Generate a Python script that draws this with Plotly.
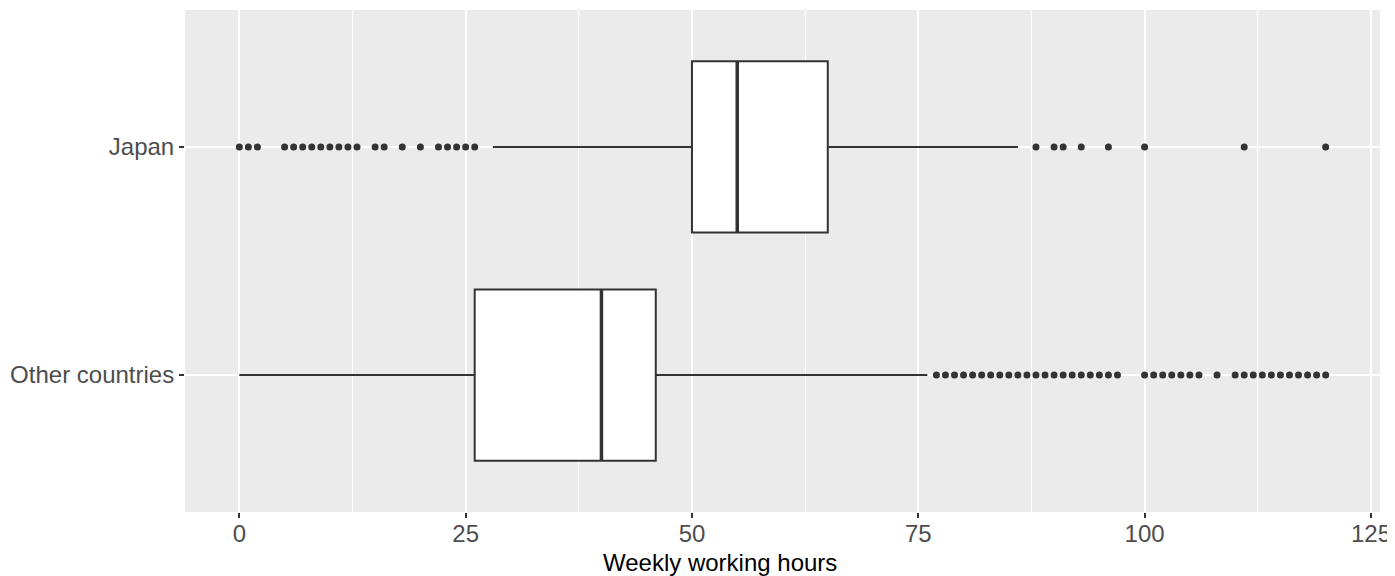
import plotly.graph_objects as go

# ---- data ----
groups = ["Other countries", "Japan"]
positions = [1, 2]
q1 = [26, 50]
median = [40, 55]
q3 = [46, 65]
lower_fence = [0, 28]
upper_fence = [76, 86]

japan_outliers = [0, 1, 2, 5, 6, 7, 8, 9, 10, 11, 12, 13, 15, 16, 18, 20,
                  22, 23, 24, 25, 26, 88, 90, 91, 93, 96, 100, 111, 120]
other_outliers = list(range(77, 98)) + list(range(100, 107)) + [108] + list(range(110, 121))
outliers = [other_outliers, japan_outliers]

x_ticks = [0, 25, 50, 75, 100, 125]
x_title = "Weekly working hours"
box_width = 0.75

LINE = "#333333"
fig = go.Figure()

for i, g in enumerate(groups):
    fig.add_trace(go.Box(
        y=[positions[i]], q1=[q1[i]], median=[median[i]], q3=[q3[i]],
        lowerfence=[lower_fence[i]], upperfence=[upper_fence[i]],
        orientation="h", boxpoints=False, width=box_width, whiskerwidth=0,
        fillcolor="white", line=dict(color=LINE, width=2),
        name=g, showlegend=False, hoverinfo="skip",
    ))
    # thicker median line
    fig.add_trace(go.Scatter(
        x=[median[i], median[i]],
        y=[positions[i] - box_width / 2, positions[i] + box_width / 2],
        mode="lines", line=dict(color=LINE, width=3.5),
        showlegend=False, hoverinfo="skip",
    ))
    fig.add_trace(go.Scatter(
        x=outliers[i], y=[positions[i]] * len(outliers[i]),
        mode="markers", marker=dict(color=LINE, size=7),
        showlegend=False, hoverinfo="skip",
    ))

fig.add_annotation(
    text=x_title, xref="paper", yref="paper", x=0.4477, y=-0.07,
    xanchor="center", yanchor="top", showarrow=False,
    font=dict(size=24, color="black"),
)

fig.update_layout(
    width=1395, height=576,
    margin=dict(l=177, r=23, t=2, b=72),
    paper_bgcolor="white", plot_bgcolor="#EBEBEB",
    font=dict(family="Liberation Sans, Arial, sans-serif", size=24, color="#4D4D4D"),
    xaxis=dict(
        range=[-6, 126], tickvals=x_ticks, ticktext=[str(t) for t in x_ticks],
        showgrid=True, gridcolor="white", gridwidth=2,
        minor=dict(dtick=12.5, tick0=0, showgrid=True, gridcolor="white", gridwidth=1),
        zeroline=False, showline=False, automargin=False,
        ticks="outside", ticklen=5, tickcolor=LINE, tickwidth=1.5,
        ticklabelstandoff=-5,
        tickfont=dict(size=24, color="#4D4D4D"),
    ),
    yaxis=dict(
        range=[0.4, 2.6], tickvals=positions, ticktext=groups,
        showgrid=True, gridcolor="white", gridwidth=2,
        zeroline=False, showline=False, automargin=False,
        ticks="outside", ticklen=5, tickcolor=LINE, tickwidth=1.5,
        tickfont=dict(size=24, color="#4D4D4D"),
    ),
)

fig.write_html("out.html")
